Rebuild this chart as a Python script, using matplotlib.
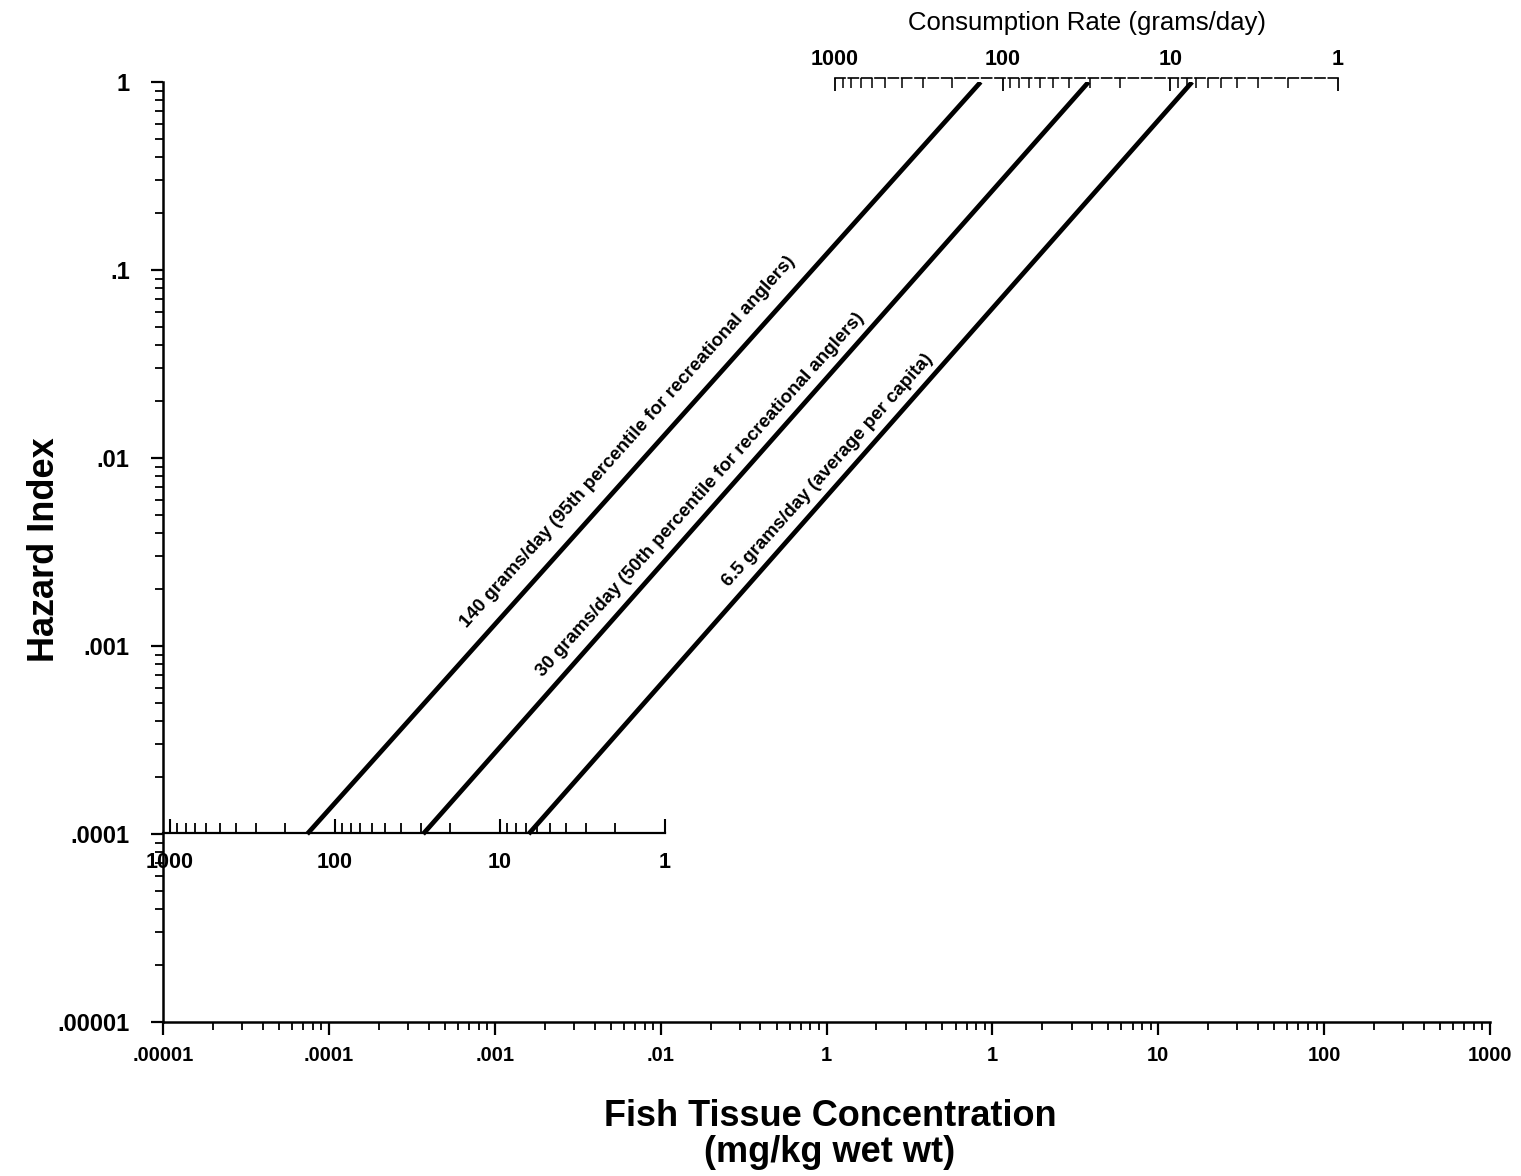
import numpy as np
import matplotlib
matplotlib.use("Agg")
import matplotlib.pyplot as plt
from matplotlib.ticker import FixedLocator, FixedFormatter, LogLocator, NullFormatter

plt.rcParams['font.family'] = ['Liberation Sans', 'DejaVu Sans']

# datos
conc_ticks = [1e-5, 1e-4, 1e-3, 1e-2, 1e-1, 1, 10, 100, 1000]
conc_labels = [".00001", ".0001", ".001", ".01", "1", "1", "10", "100", "1000"]
hi_ticks = [1e-5, 1e-4, 1e-3, 1e-2, 1e-1, 1]
hi_labels = [".00001", ".0001", ".001", ".01", ".1", "1"]
rate_ticks = [1000, 100, 10, 1]
rate_labels = ["1000", "100", "10", "1"]

# cada linea: concentracion en HI = .0001 y en HI = 1
hi_ends = [1e-4, 1.0]
conc_140 = [7.4e-5, 0.85]
conc_30 = [3.7e-4, 3.8]
conc_65 = [1.6e-3, 16.0]
textos = ["140 grams/day (95th percentile for recreational anglers)",
          "30 grams/day (50th percentile for recreational anglers)",
          "6.5 grams/day (average per capita)"]
# posicion del texto (concentracion, HI) sobre cada linea
pos_texto = [(6.35e-3, 0.0122), (0.0173, 0.0064), (0.102, 0.0086)]

W, H = 1521, 1176
fig = plt.figure(figsize=(W / 100, H / 100), dpi=100)

x0, x1 = 163, 1490
y0, y1 = 82, 1022
ax = fig.add_axes([x0 / W, 1 - y1 / H, (x1 - x0) / W, (y1 - y0) / H])
ax.set_xscale('log')
ax.set_yscale('log')
ax.set_xlim(1e-5, 1000)
ax.set_ylim(1e-5, 1)
for s in ['top', 'right']:
    ax.spines[s].set_visible(False)
for s in ['left', 'bottom']:
    ax.spines[s].set_linewidth(1.8)

ax.xaxis.set_major_locator(FixedLocator(conc_ticks))
ax.xaxis.set_major_formatter(FixedFormatter(conc_labels))
ax.yaxis.set_major_locator(FixedLocator(hi_ticks))
ax.yaxis.set_major_formatter(FixedFormatter(hi_labels))
for a in [ax.xaxis, ax.yaxis]:
    a.set_minor_locator(LogLocator(base=10, subs=np.arange(2, 10), numticks=20))
    a.set_minor_formatter(NullFormatter())
ax.tick_params(which='major', direction='out', length=9, width=1.6)
ax.tick_params(which='minor', direction='out', length=6, width=1.3)
ax.tick_params(axis='x', which='major', labelsize=14.5, pad=8)
ax.tick_params(axis='y', which='major', labelsize=17, pad=15)
for t in ax.get_xticklabels() + ax.get_yticklabels():
    t.set_fontweight('bold')

# titulos de los ejes
fig.text(830 / W, 1 - 1099 / H, "Fish Tissue Concentration\n(mg/kg wet wt)",
         ha='center', va='top', fontsize=26, fontweight='bold', linespacing=1.05)
fig.text(45 / W, 1 - 550 / H, "Hazard Index", rotation=90, ha='center',
         va='center', fontsize=26, fontweight='bold')

for conc in [conc_140, conc_30, conc_65]:
    ax.plot(conc, hi_ends, color='black', lw=3.4, solid_capstyle='butt')

# angulo del texto en pantalla
p1 = ax.transData.transform((conc_140[0], hi_ends[0]))
p2 = ax.transData.transform((conc_140[1], hi_ends[1]))
ang = np.degrees(np.arctan2(p2[1] - p1[1], p2[0] - p1[0]))
for txt, (cx, cy) in zip(textos, pos_texto):
    ax.text(cx, cy, txt, rotation=ang, rotation_mode='anchor', ha='center',
            va='center', fontsize=13.5, fontweight='bold')

# escala inferior de consumo
yb = 833
axb = fig.add_axes([163 / W, 1 - yb / H, (665 - 163) / W, 0.0001])
axb.patch.set_alpha(0)
axb.set_xscale('log')
axb.set_xlim(1100, 1)
for s in ['top', 'left', 'right']:
    axb.spines[s].set_visible(False)
axb.spines['bottom'].set_linewidth(1.6)
axb.set_yticks([])
axb.xaxis.set_major_locator(FixedLocator(rate_ticks))
axb.xaxis.set_major_formatter(FixedFormatter(rate_labels))
axb.xaxis.set_minor_locator(LogLocator(base=10, subs=np.arange(2, 10), numticks=20))
axb.xaxis.set_minor_formatter(NullFormatter())
axb.tick_params(which='major', direction='in', length=10, width=1.5,
                labelsize=15.5, pad=14)
axb.tick_params(which='minor', direction='in', length=7, width=1.3)
for t in axb.get_xticklabels():
    t.set_fontweight('bold')

# escala superior de consumo
yt = 78
axt = fig.add_axes([835 / W, 1 - yt / H, (1338 - 835) / W, 0.0001])
axt.patch.set_alpha(0)
axt.set_xscale('log')
axt.set_xlim(1000, 1)
for s in ['bottom', 'left', 'right']:
    axt.spines[s].set_visible(False)
axt.spines['top'].set_linewidth(1.2)
axt.spines['top'].set_linestyle((0, (6, 2)))
axt.set_yticks([])
axt.xaxis.tick_top()
axt.xaxis.set_label_position('top')
axt.xaxis.set_major_locator(FixedLocator(rate_ticks))
axt.xaxis.set_major_formatter(FixedFormatter(rate_labels))
axt.xaxis.set_minor_locator(LogLocator(base=10, subs=np.arange(2, 10), numticks=20))
axt.xaxis.set_minor_formatter(NullFormatter())
axt.tick_params(which='major', direction='in', length=9, width=1.3,
                labelsize=15.5, pad=6)
axt.tick_params(which='minor', direction='in', length=7, width=1.1)
for t in axt.get_xticklabels():
    t.set_fontweight('bold')
axt.set_xlabel("Consumption Rate (grams/day)", fontsize=18.5, labelpad=13)

plt.savefig('out.png', dpi=100)
